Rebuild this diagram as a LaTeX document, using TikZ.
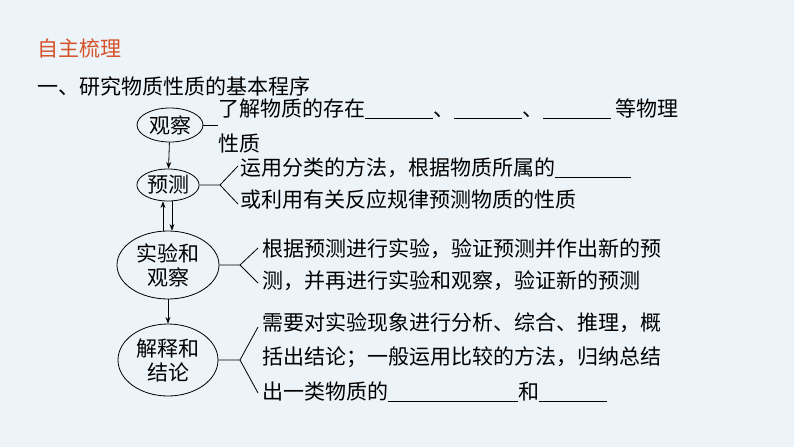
\documentclass[tikz,border=0pt]{standalone}
\usepackage{fontspec}
\setmainfont{Noto Sans CJK SC}
\usetikzlibrary{shapes.geometric,arrows.meta}
\definecolor{bgblue}{RGB}{236,243,249}
\definecolor{titlered}{RGB}{214,82,40}
\newcommand{\blank}[1]{\underline{\hspace{#1pt}}}
\begin{document}
\begin{tikzpicture}[x=1pt,y=-1pt,font=\fontsize{21}{24}\selectfont,
    every ellipse node/.style={draw,thick,inner sep=1pt},
    line/.style={thick},
    txt/.style={anchor=west,inner sep=0pt}]
    \fill[bgblue] (0,0) rectangle (794,447);
    \useasboundingbox (0,0) rectangle (794,447);
    \node[txt,text=titlered] (title) at (37,48) {自主梳理};
    \node[txt] (head) at (37,86) {一、研究物质性质的基本程序};
    \node[ellipse,minimum width=66,minimum height=34] (obs) at (170,125) {观察};
    \node[ellipse,minimum width=62,minimum height=32] (pre) at (168,185) {预测};
    \node[ellipse,minimum width=102,minimum height=68,align=center] (exp) at (168,265) {实验和\\观察};
    \node[ellipse,minimum width=100,minimum height=72,align=center] (con) at (168,360) {解释和\\结论};
    % texts
    \node[txt] (t1a) at (218,109) {了解物质的存在\blank{68}、\blank{68}、\blank{68} 等物理};
    \node[txt] (t1b) at (218,144) {性质};
    \node[txt] (t2a) at (240,168) {运用分类的方法，根据物质所属的\blank{76}};
    \node[txt] (t2b) at (240,200) {或利用有关反应规律预测物质的性质};
    \node[txt] (t3a) at (262,249) {根据预测进行实验，验证预测并作出新的预};
    \node[txt] (t3b) at (262,281) {测，并再进行实验和观察，验证新的预测};
    \node[txt] (t4a) at (262,323) {需要对实验现象进行分析、综合、推理，概};
    \node[txt] (t4b) at (262,357) {括出结论；一般运用比较的方法，归纳总结};
    \node[txt] (t4c) at (262,392) {出一类物质的\blank{130}和\blank{68}};
    % arrows
    \draw[line,-{Stealth}] (obs) -- (pre);
    \draw[line,-{Stealth}] ([xshift=4]pre.south) -- ([xshift=4]exp.north);
    \draw[line,{Stealth}-] ([xshift=-5]pre.south) -- ([xshift=-5]exp.north);
    \draw[line,-{Stealth}] (exp) -- (con);
    % brackets
    \draw[line] (obs.east) -- (218,125);
    \draw[line] (pre.east) -- (220,185) -- (238,166);
    \draw[line] (220,185) -- (238,204);
    \draw[line] (exp.east) -- (240,265) -- (258,248);
    \draw[line] (240,265) -- (258,283);
    \draw[line] (con.east) -- (240,360) -- (258,327);
    \draw[line] (240,360) -- (258,393);
\end{tikzpicture}
\end{document}
